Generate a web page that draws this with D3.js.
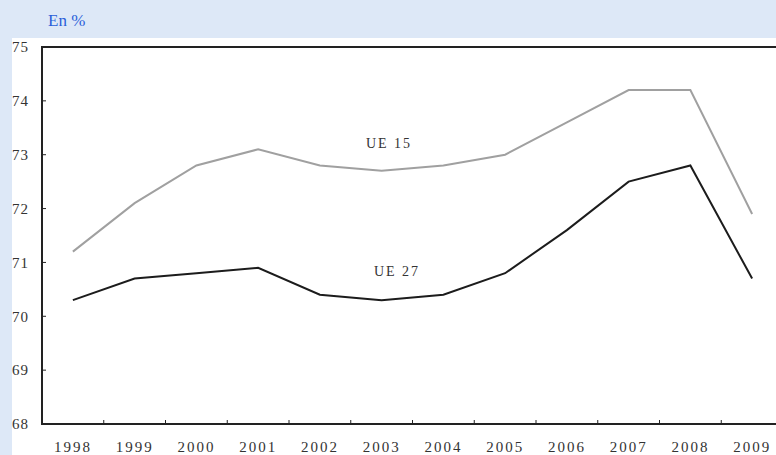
<!DOCTYPE html>
<html>
<head>
<meta charset="utf-8">
<script src="https://cdn.jsdelivr.net/npm/d3@7"></script>
<style>
  body { margin: 0; background: #dde8f7; }
  svg { display: block; }
  text { font-family: "Liberation Serif", "DejaVu Serif", serif; }
</style>
</head>
<body>
<div id="root"></div>
<script>
// Data
const years = ["1998", "1999", "2000", "2001", "2002", "2003", "2004", "2005", "2006", "2007", "2008", "2009"];
const ue15 = [71.2, 72.1, 72.8, 73.1, 72.8, 72.7, 72.8, 73.0, 73.6, 74.2, 74.2, 71.9];
const ue27 = [70.3, 70.7, 70.8, 70.9, 70.4, 70.3, 70.4, 70.8, 71.6, 72.5, 72.8, 70.7];
const yTicks = [68, 69, 70, 71, 72, 73, 74, 75];

// Size of the chart
const width = 776;
const height = 455;
const plotLeft = 42;
const plotRight = 783;
const plotTop = 47;
const plotBottom = 424;

const svg = d3.select("#root")
  .append("svg")
  .attr("width", width)
  .attr("height", height);

// Background
svg.append("rect")
  .attr("width", width)
  .attr("height", height)
  .attr("fill", "#dde8f7");

svg.append("rect")
  .attr("x", 12)
  .attr("y", 38)
  .attr("width", width - 12)
  .attr("height", height - 38)
  .attr("fill", "#ffffff");

// Header
svg.append("text")
  .attr("x", 48)
  .attr("y", 26)
  .attr("fill", "#2b5fd9")
  .attr("font-size", 17)
  .text("En %");

// Scales
const xScale = d3.scaleBand()
  .domain(years)
  .range([plotLeft, plotRight]);

const yScale = d3.scaleLinear()
  .domain([68, 75])
  .range([plotBottom, plotTop]);

// Y axis labels
svg.append("g")
  .selectAll("text")
  .data(yTicks)
  .enter()
  .append("text")
  .attr("x", 12)
  .attr("y", d => yScale(d))
  .attr("dy", "0.35em")
  .attr("font-size", 15)
  .attr("letter-spacing", 1)
  .attr("fill", "#333")
  .text(d => d);

// Y ticks (inside)
svg.append("g")
  .selectAll("line")
  .data(yTicks.slice(1, -1))
  .enter()
  .append("line")
  .attr("x1", plotLeft)
  .attr("x2", plotLeft + 4)
  .attr("y1", d => yScale(d))
  .attr("y2", d => yScale(d))
  .attr("stroke", "#222")
  .attr("stroke-width", 1);

// X ticks at band boundaries (inside)
svg.append("g")
  .selectAll("line")
  .data(years.slice(1))
  .enter()
  .append("line")
  .attr("x1", d => xScale(d))
  .attr("x2", d => xScale(d))
  .attr("y1", plotBottom)
  .attr("y2", plotBottom - 4)
  .attr("stroke", "#222")
  .attr("stroke-width", 1);

// X labels
svg.append("g")
  .selectAll("text")
  .data(years)
  .enter()
  .append("text")
  .attr("x", d => xScale(d) + xScale.bandwidth() / 2)
  .attr("y", 452)
  .attr("text-anchor", "middle")
  .attr("font-size", 15)
  .attr("letter-spacing", 2)
  .attr("fill", "#333")
  .text(d => d);

// Frame
svg.append("rect")
  .attr("x", plotLeft)
  .attr("y", plotTop)
  .attr("width", plotRight - plotLeft)
  .attr("height", plotBottom - plotTop)
  .attr("fill", "none")
  .attr("stroke", "#222")
  .attr("stroke-width", 2);

// Lines
const line = d3.line()
  .x((d, i) => xScale(years[i]) + xScale.bandwidth() / 2)
  .y(d => yScale(d));

function createLine(data, color) {
  svg.append("path")
    .datum(data)
    .attr("fill", "none")
    .attr("stroke", color)
    .attr("stroke-width", 2)
    .attr("d", line);
}

createLine(ue15, "#a0a0a0");
createLine(ue27, "#1c1c1c");

// Series labels
svg.append("text")
  .attr("x", 389)
  .attr("y", 148)
  .attr("text-anchor", "middle")
  .attr("font-size", 14)
  .attr("letter-spacing", 2)
  .attr("fill", "#333")
  .text("UE 15");

svg.append("text")
  .attr("x", 397)
  .attr("y", 276)
  .attr("text-anchor", "middle")
  .attr("font-size", 14)
  .attr("letter-spacing", 2)
  .attr("fill", "#333")
  .text("UE 27");
</script>
</body>
</html>
